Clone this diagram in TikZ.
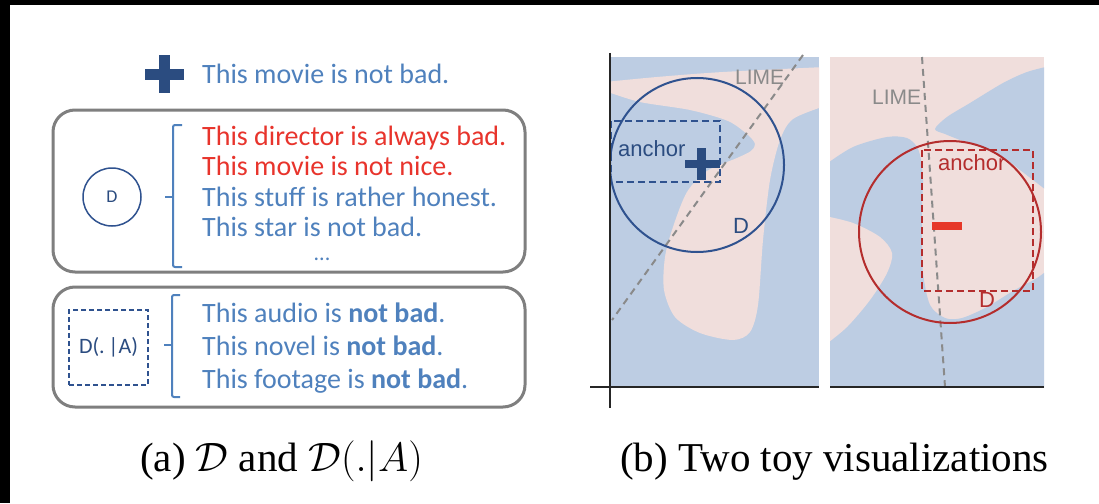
\RequirePackage{fix-cm}
\documentclass[tikz,border=0pt]{standalone}
\usepackage{fontspec}
\setmainfont{Liberation Serif}
\newfontfamily\carlitofont{Carlito}
\newfontfamily\arialfont{Liberation Sans}
\definecolor{tblue}{RGB}{79,129,189}
\definecolor{tred}{RGB}{232,52,44}
\definecolor{navy}{RGB}{43,76,128}
\definecolor{cnavy}{RGB}{47,82,143}
\definecolor{bgblue}{RGB}{189,205,227}
\definecolor{bgpink}{RGB}{240,222,220}
\definecolor{dred}{RGB}{180,45,45}
\definecolor{bred}{RGB}{230,55,40}
\definecolor{lgray}{RGB}{138,138,138}
\definecolor{bgray}{RGB}{127,127,127}
\tikzset{
  sent/.style={anchor=base west, inner sep=0pt, font=\carlitofont\fontsize{28}{30}\selectfont},
  roundbox/.style={draw=bgray, line width=3pt, rounded corners=22pt},
  brk/.style={draw=tblue, line width=2pt, rounded corners=2pt},
  lbl/.style={anchor=base west, inner sep=0pt, font=\arialfont\fontsize{22}{24}\selectfont},
  limeline/.style={draw=lgray, line width=2pt, dash pattern=on 7pt off 5pt},
  axisline/.style={draw=black!85, line width=2.6pt},
  captext/.style={anchor=base west, inner sep=0pt, font=\fontsize{41}{44}\selectfont}
}
\begin{document}
\begin{tikzpicture}[x=1pt,y=-1pt]
\useasboundingbox (0,0) rectangle (1099,503);
\fill[white] (0,0) rectangle (1099,503);
\fill[black] (0,0) rectangle (1099,5);
\fill[black] (0,0) rectangle (10,503);

% ---------- panel (a) ----------
\fill[navy] (145,69) rectangle (184,80);
\fill[navy] (159,55) rectangle (170,93);
\node[sent, text=tblue] (s0) at (202,83) {This movie is not bad.};

\draw[roundbox] (53,110) rectangle (525,272);
\node[draw=cnavy, line width=1.5pt, circle, minimum size=58pt, inner sep=0pt,
      font=\carlitofont\fontsize{18}{19}\selectfont, text=navy] (D) at (112,197) {D};
\draw[brk] (182,125) -- (173,125) -- (173,267) -- (182,267);
\draw[brk] (165,197) -- (173,197);
\node[sent, text=tred] (s1) at (202,145) {This director is always bad.};
\node[sent, text=tred] (s2) at (202,175.5) {This movie is not nice.};
\node[sent, text=tblue] (s3) at (202,206) {This stuff is rather honest.};
\node[sent, text=tblue] (s4) at (202,236.5) {This star is not bad.};
\node[anchor=center, inner sep=0pt, text=tblue, font=\carlitofont\fontsize{22}{24}\selectfont] (dots) at (322,259) {...};

\draw[roundbox] (53,287) rectangle (525,407);
\node[draw=cnavy, line width=1.5pt, dash pattern=on 5pt off 3pt, rectangle, minimum width=79pt, minimum height=75pt,
      inner sep=0pt, font=\carlitofont\fontsize{22}{24}\selectfont, text=navy] (DA) at (108.5,347.5) {D(.\,|A)};
\draw[brk] (180,295) -- (172,295) -- (172,397) -- (180,397);
\draw[brk] (164,345) -- (172,345);
\node[sent, text=tblue] (t1) at (202,322) {This audio is \textbf{not bad}.};
\node[sent, text=tblue] (t2) at (202,355) {This novel is \textbf{not bad}.};
\node[sent, text=tblue] (t3) at (202,388) {This footage is \textbf{not bad}.};

\node[captext] (capa) at (140,471) {(a) $\mathcal{D}$ and $\mathcal{D}(.|A)$};

% ---------- panel (b), left plot ----------
\begin{scope}
\clip (611,57) rectangle (819,387);
\fill[bgblue] (611,57) rectangle (819,387);
\fill[bgpink] plot[smooth] coordinates {(605,82) (657,77) (723,72) (825,67)}
  -- plot[smooth] coordinates {(825,106) (793,119) (780,140) (770,180) (763,240) (758,305) (750,332) (733,340) (700,333) (675,317) (664,290) (665,257) (673,227) (687,192) (707,171) (737,158) (751,151) (755,144) (748,135) (728,121) (690,110) (640,102) (605,91)} -- cycle;
\end{scope}
\draw[limeline] (803,55) -- (612,320);
\draw[draw=cnavy, line width=2pt] (697,165) circle[radius=87pt];
\draw[draw=cnavy, line width=2pt, dash pattern=on 7pt off 4pt] (611,121) rectangle (720,182);
\fill[navy] (685,160) rectangle (720,168);
\fill[navy] (697,148) rectangle (706,180);
\node[lbl, text=navy] (anc1) at (618,156) {anchor};
\node[lbl, text=lgray, font=\arialfont\fontsize{21}{22}\selectfont] (lime1) at (735,84) {LIME};
\node[lbl, text=navy] (d1) at (733,233) {D};
\draw[axisline] (610,53) -- (610,408);
\draw[axisline] (590,387) -- (819,387);

% ---------- panel (b), right plot ----------
\begin{scope}
\clip (830,57) rectangle (1044,387);
\fill[bgpink] (830,57) rectangle (1044,387);
\fill[bgblue] plot[smooth] coordinates {(825,165) (853,147) (887,137) (907,138) (917,147) (921,160) (923,180) (922,207) (922,240) (923,273) (930,305) (945,318) (962,318) (987,307) (1013,291) (1037,278) (1050,268)}
  -- (1050,395) -- (825,395) -- cycle;
\fill[bgblue] plot[smooth] coordinates {(1050,66) (1027,72) (1003,83) (970,103) (947,117) (935,129) (945,134) (960,140) (987,150) (1007,160) (1020,170) (1033,180) (1050,193)} -- cycle;
\fill[bgpink] plot[smooth] coordinates {(825,216) (853,223) (880,237) (892,253) (887,273) (870,300) (847,327) (825,345)} -- cycle;
\end{scope}
\draw[limeline] (922,57) -- (945,387);
\draw[draw=dred, line width=2pt] (950,232) circle[radius=91pt];
\draw[draw=dred, line width=2pt, dash pattern=on 7pt off 4pt] (922,150) rectangle (1033,291);
\fill[bred] (932,222) rectangle (962,230);
\node[lbl, text=dred] (anc2) at (938,170) {anchor};
\node[lbl, text=lgray, font=\arialfont\fontsize{21}{22}\selectfont] (lime2) at (872,104) {LIME};
\node[lbl, text=dred] (d2) at (979,307) {D};
\draw[axisline] (830,387) -- (1044,387);

\node[captext] (capb) at (620,471) {(b) Two toy visualizations};
\end{tikzpicture}
\end{document}
